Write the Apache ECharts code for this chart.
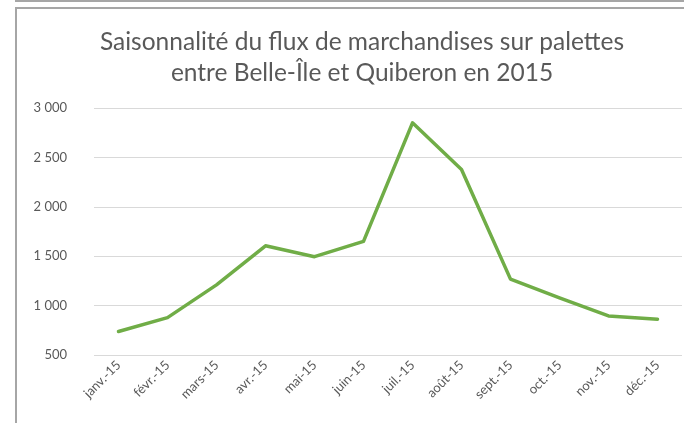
<!DOCTYPE html>
<html>
<head>
<meta charset="utf-8">
<script src="https://cdn.jsdelivr.net/npm/echarts@6/dist/echarts.min.js"></script>
<style>
  html, body { margin: 0; padding: 0; background: #fff; }
  #chart { width: 684px; height: 423px; }
</style>
</head>
<body>
<div id="chart"></div>
<script>
// Monthly pallet freight, Belle-Île <-> Quiberon, 2015
const months = ['janv.-15', 'févr.-15', 'mars-15', 'avr.-15', 'mai-15', 'juin-15',
                'juil.-15', 'août-15', 'sept.-15', 'oct.-15', 'nov.-15', 'déc.-15'];
const palettes = [738, 878, 1210, 1605, 1495, 1650, 2850, 2378, 1268, 1078, 895, 862];
const titleLines = ['Saisonnalité du flux de marchandises sur palettes',
                    'entre Belle-Île et Quiberon en 2015'];

const FONT = 'Lato, "Open Sans", sans-serif';
const frameColor = '#a6a6a6';

const chart = echarts.init(document.getElementById('chart'));
chart.setOption({
  animation: false,
  title: {
    text: titleLines.join('\n'),
    left: 357,
    textAlign: 'center',
    top: 22,
    textStyle: { fontFamily: FONT, fontSize: 24.5, fontWeight: 'normal', color: '#595959', lineHeight: 31 }
  },
  grid: { left: 94, right: 2, top: 108, bottom: 68, containLabel: false },
  xAxis: {
    type: 'category',
    data: months,
    boundaryGap: true,
    axisLine: { show: false },
    axisTick: { show: false },
    axisLabel: { rotate: 45, margin: 8, color: '#595959', fontFamily: FONT, fontSize: 13, interval: 0 }
  },
  yAxis: {
    type: 'value',
    min: 500,
    max: 3000,
    interval: 500,
    axisLine: { show: false },
    axisTick: { show: false },
    axisLabel: {
      margin: 27,
      color: '#595959',
      fontFamily: FONT,
      fontSize: 13,
      formatter: v => String(v).replace(/\B(?=(\d{3})+(?!\d))/g, ' ')
    },
    splitLine: { lineStyle: { color: '#d9d9d9', width: 1 } }
  },
  series: [{
    type: 'line',
    data: palettes,
    symbol: 'none',
    lineStyle: { color: '#70ad47', width: 3.5, cap: 'round', join: 'round' }
  }],
  graphic: [
    { type: 'rect', shape: { x: 15, y: 0, width: 669, height: 2 }, style: { fill: frameColor } },
    { type: 'rect', shape: { x: 15, y: 7, width: 669, height: 2 }, style: { fill: frameColor } },
    { type: 'rect', shape: { x: 15, y: 7, width: 2, height: 416 }, style: { fill: frameColor } }
  ]
});
</script>
</body>
</html>
